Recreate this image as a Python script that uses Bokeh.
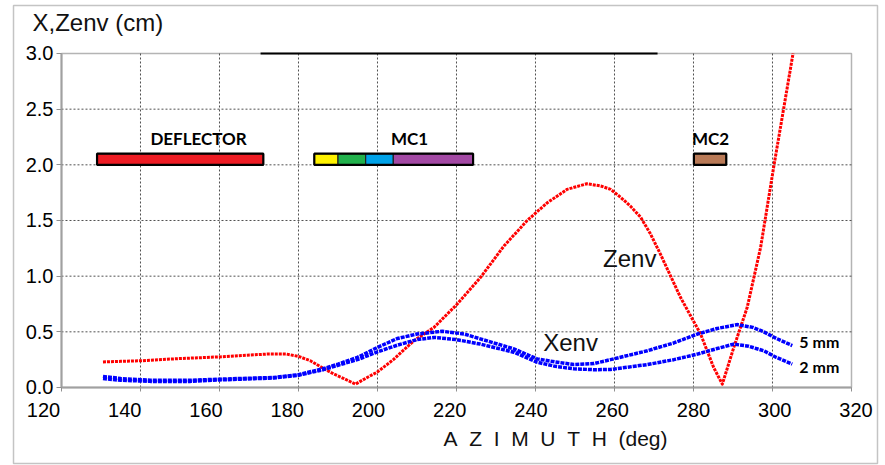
from bokeh.plotting import figure
from bokeh.models import (FixedTicker, Label, LinearAxis, Range1d, NumeralTickFormatter)
from bokeh.core.properties import value
from bokeh.embed import file_html
from bokeh.resources import INLINE

# ---------------- data ----------------
zenv_az = [130.5, 135, 140, 150, 160, 167, 172, 177, 180, 183, 186.4, 189, 191.5,
           194.4, 197.4, 200, 204, 209.2, 214.3, 220.2, 226.1, 232, 237.9, 243,
           248, 253, 256.5, 259.0, 261.5, 264.0, 266.6, 269.1, 271.6, 276.7, 281.8,
           285.1, 287.3, 290.2, 293.6, 297, 300.3, 302.9, 305.2]
zenv = [0.23, 0.235, 0.24, 0.26, 0.275, 0.29, 0.30, 0.30, 0.28, 0.24, 0.17, 0.12, 0.08,
        0.03, 0.09, 0.14, 0.25, 0.42, 0.54, 0.75, 0.99, 1.27, 1.50, 1.66,
        1.78, 1.83, 1.81, 1.78, 1.71, 1.63, 1.53, 1.38, 1.20, 0.81, 0.48,
        0.18, 0.03, 0.36, 0.72, 1.26, 1.98, 2.52, 3.0]

x5_az = [130.5, 135, 142.5, 152.7, 160, 173.7, 180, 186.3, 190, 194.9, 200, 205, 210,
         216.4, 222, 226, 234.5, 240.4, 245, 249.7, 254.8, 259, 268.3, 275, 281,
         286, 291, 295, 297.8, 301, 305]
x5 = [0.10, 0.08, 0.065, 0.065, 0.075, 0.09, 0.115, 0.17, 0.21, 0.27, 0.36, 0.44, 0.48,
      0.505, 0.48, 0.437, 0.347, 0.257, 0.23, 0.206, 0.215, 0.25, 0.33, 0.40, 0.48,
      0.53, 0.565, 0.54, 0.50, 0.44, 0.377]

x2_az = [130.5, 135, 142.5, 152.7, 160, 173.7, 180, 186.3, 190, 194.9, 200, 205, 210,
         214.3, 220, 226, 234.5, 240.4, 245, 249.7, 254.8, 259, 268.3, 275, 281,
         286, 290.2, 294, 297.8, 301, 305]
x2 = [0.08, 0.065, 0.055, 0.055, 0.068, 0.085, 0.11, 0.16, 0.20, 0.25, 0.32, 0.38, 0.43,
      0.45, 0.43, 0.39, 0.317, 0.227, 0.19, 0.168, 0.16, 0.162, 0.206, 0.25, 0.30,
      0.35, 0.39, 0.37, 0.33, 0.27, 0.21]

x_ticks = [120, 140, 160, 180, 200, 220, 240, 260, 280, 300, 320]
y_ticks = [0.0, 0.5, 1.0, 1.5, 2.0, 2.5, 3.0]
x_min, x_max = 120, 320
y_min, y_max = 0.0, 3.0

# elements drawn at the top (azimuth spans)
elem_bottom = 2.0
elem_top = 2.1
elem_left = [129.0, 184.0, 190.0, 197.0, 204.0, 280.1]
elem_right = [171.1, 190.0, 197.0, 204.0, 224.2, 288.3]
elem_colors = ["#ee1c24", "#fff200", "#22b14c", "#00a2e8", "#a349a4", "#b97a57"]
group_left = [129.0, 184.0, 280.1]
group_right = [171.1, 224.2, 288.3]
group_names = ["DEFLECTOR", "MC1", "MC2"]
group_label_x = [154.7, 208.1, 284.3]
group_label_y = 2.236

top_line_az = [170.4, 270.9]

# ---------------- figure ----------------
# the frame covers the whole canvas; axes are fixed at x=120 / y=0
p = figure(width=885, height=465,
           x_range=Range1d(104.557, 328.608), y_range=Range1d(-0.7006, 3.476),
           output_backend="svg", toolbar_location=None,
           min_border=0, min_border_left=0, min_border_right=0,
           min_border_top=0, min_border_bottom=0,
           background_fill_color="white", border_fill_color="white")
p.outline_line_color = None
p.xgrid.visible = False
p.ygrid.visible = False

# outer light border
p.quad(left=[107.85], right=[326.58], bottom=[-0.683], top=[3.431],
       fill_color=None, line_color="#c4c4c4", line_width=1.5)

# plot-area box (top / right edges)
p.quad(left=[x_min], right=[x_max], bottom=[y_min], top=[y_max],
       fill_color=None, line_color="#b4b4b4", line_width=1.5)

# grid lines (dotted)
gx = x_ticks[1:-1]
gy = y_ticks[1:-1]
p.segment(x0=gx, y0=[y_min] * len(gx), x1=gx, y1=[y_max] * len(gx),
          line_color="#505050", line_dash="2 2", line_width=1)
p.segment(x0=[x_min] * len(gy), y0=gy, x1=[x_max] * len(gy), y1=gy,
          line_color="#505050", line_dash="2 2", line_width=1)

# axes
p.xaxis.fixed_location = y_min
p.xaxis.bounds = (x_min, x_max)
p.xaxis.ticker = FixedTicker(ticks=x_ticks)
p.xaxis.major_label_overrides = {t: "" for t in x_ticks}
p.xaxis.axis_line_color = "#a0a0a0"
p.xaxis.axis_line_width = 2
p.xaxis.major_tick_line_color = "#909090"
p.xaxis.major_tick_out = 4
p.xaxis.major_tick_in = 0
p.xaxis.minor_tick_line_color = None

p.yaxis.fixed_location = x_min
p.yaxis.bounds = (y_min, y_max)
p.yaxis.ticker = FixedTicker(ticks=y_ticks)
p.yaxis.formatter = NumeralTickFormatter(format="0.0")
p.yaxis.axis_line_color = "#a0a0a0"
p.yaxis.axis_line_width = 2
p.yaxis.major_tick_line_color = "#909090"
p.yaxis.major_tick_out = 5
p.yaxis.major_tick_in = 0
p.yaxis.minor_tick_line_color = None
p.yaxis.major_label_standoff = 3
p.yaxis.major_label_text_font = "Liberation Sans"
p.yaxis.major_label_text_font_size = "20px"
p.yaxis.major_label_text_color = "black"

# x tick labels: the original spreads them slightly wider than the grid
p.extra_x_ranges = {"xlbl": Range1d(109.415, 327.26)}
lbl_axis = LinearAxis(x_range_name="xlbl", fixed_location=y_min,
                      ticker=FixedTicker(ticks=x_ticks),
                      axis_line_color=None, major_tick_line_color=None,
                      minor_tick_line_color=None, major_label_standoff=10,
                      major_label_text_font="Liberation Sans",
                      major_label_text_font_size="20px",
                      major_label_text_color="black")
p.add_layout(lbl_axis, "below")

# top black segment
p.line(top_line_az, [y_max, y_max], line_color="black", line_width=2)

# element bars
p.quad(left=elem_left, right=elem_right, bottom=elem_bottom, top=elem_top,
       fill_color=elem_colors, line_color="#222222", line_width=1.2)
p.quad(left=group_left, right=group_right, bottom=elem_bottom, top=elem_top,
       fill_color=None, line_color="black", line_width=2.2)
p.text(x=group_label_x, y=[group_label_y] * 3, text=group_names,
       text_font=value("Lato"), text_font_style="bold", text_font_size="17px",
       text_align="center", text_baseline="alphabetic", text_color="black")

# curves
p.line(zenv_az, zenv, line_color="#ff0000", line_width=3, line_dash="3 1",
       line_join="round")
p.line(x5_az, x5, line_color="#0000ff", line_width=3.5, line_dash="4 1",
       line_join="round")
p.line(x2_az, x2, line_color="#0000ff", line_width=3.5, line_dash="4 1",
       line_join="round")

# curve labels
p.text(x=[241.95, 257.1], y=[0.404, 1.161], text=["Xenv", "Zenv"],
       text_font=value("Liberation Sans"), text_font_size="24px",
       text_baseline="alphabetic", text_align="left", text_color="#111111")
p.text(x=[306.8, 306.8], y=[0.413, 0.189], text=["5 mm", "2 mm"],
       text_font=value("Lato"), text_font_style="bold", text_font_size="16px",
       text_baseline="alphabetic", text_align="left", text_color="black")

# titles
p.add_layout(Label(x=112.66, y=3.278, text="X,Zenv (cm)", text_font="Liberation Sans",
                   text_font_size="24px", text_baseline="alphabetic", text_align="left",
                   text_color="#111111"))
p.add_layout(Label(x=216.71, y=-0.455,
                   text="A\u00a0\u00a0Z\u00a0\u00a0I\u00a0\u00a0M\u00a0\u00a0U\u00a0\u00a0T\u00a0\u00a0H\u00a0\u00a0(deg)",
                   text_font="Liberation Sans", text_font_size="21px",
                   text_baseline="alphabetic", text_align="left", text_color="#111111"))

open("out.html", "w").write(file_html(p, INLINE))
